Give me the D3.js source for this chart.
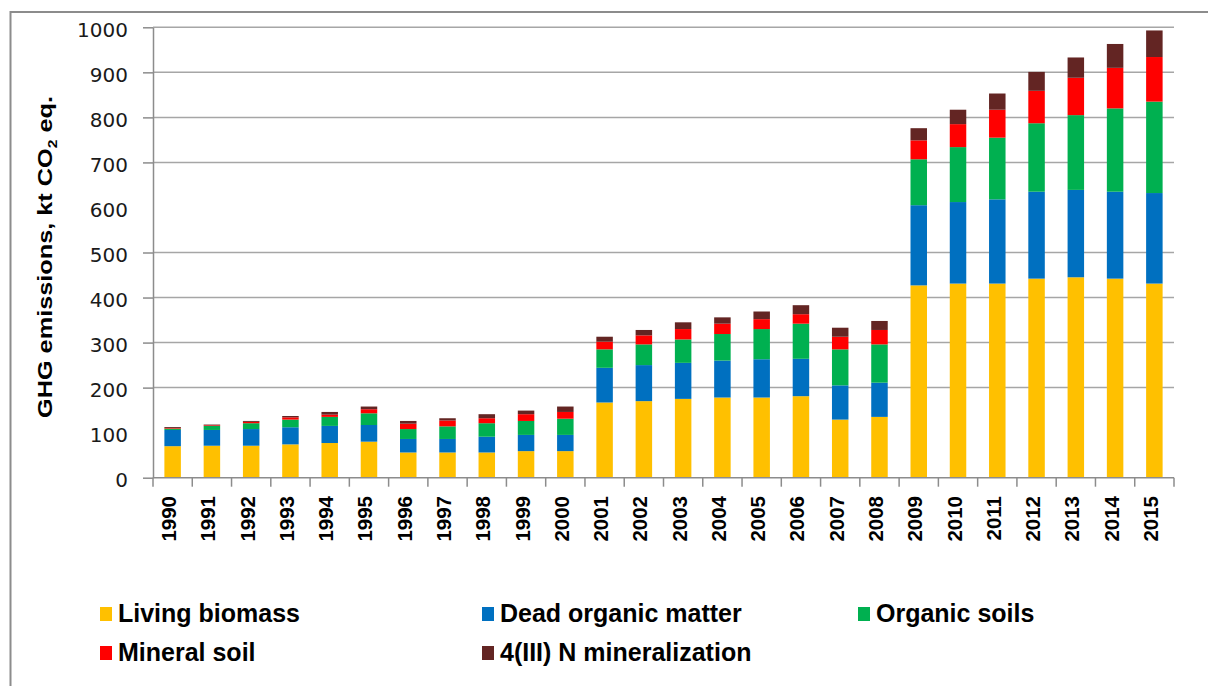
<!DOCTYPE html>
<html>
<head>
<meta charset="utf-8">
<script src="https://cdn.jsdelivr.net/npm/d3@7"></script>
<style>
  html, body { margin: 0; padding: 0; background: #fff; }
  svg { display: block; }
</style>
</head>
<body>
<svg id="chart" width="1208" height="686"></svg>
<script>
// GHG emissions by source category, kt CO2 eq.
const years = ["1990","1991","1992","1993","1994","1995","1996","1997","1998","1999","2000",
  "2001","2002","2003","2004","2005","2006","2007","2008","2009","2010","2011","2012","2013","2014","2015"];
const livingBiomass = [70,71,71,74,77,80,56,56,56,59,59,167,170,175,178,178,181,129,135,427,431,431,442,445,442,431];
const deadOrganicMatter = [36,35,37,38,38,37,30,30,35,36,36,77,80,80,82,85,83,76,76,178,181,187,193,194,193,201];
const organicSoils = [3,9,13,17,20,26,22,28,30,31,36,41,46,52,59,67,78,80,85,102,122,137,152,166,185,203];
const mineralSoil = [1.5,1.5,3,5,5,9,12,13,11,15,15,17,20,23,23,22,21,28,32,42,51,62,72,83,90,99];
const nMineralization = [2,1.5,2,3,6,6,6,5,9,8,12,11,12,15,14,17,20,20,20,27,32,36,42,45,53,59];

const seriesNames = ["Living biomass","Dead organic matter","Organic soils","Mineral soil","4(III) N mineralization"];
const seriesColors = ["#FFC000","#0070C0","#00B050","#FF0000","#632523"];
const yTickValues = [0,100,200,300,400,500,600,700,800,900,1000];
const gridValues = [200,300,400,500,700,800,900,1000];

const svg = d3.select("#chart");
const plot = { left: 153, right: 1174, top: 27.3, bottom: 477.7 };

// outer frame
svg.append("rect").attr("x", 10.5).attr("y", 12).attr("width", 1230).attr("height", 700)
  .attr("fill", "#fff").attr("stroke", "#8c8c8c").attr("stroke-width", 2);

const table = years.map((yr, i) => ({
  year: yr,
  "Living biomass": livingBiomass[i],
  "Dead organic matter": deadOrganicMatter[i],
  "Organic soils": organicSoils[i],
  "Mineral soil": mineralSoil[i],
  "4(III) N mineralization": nMineralization[i]
}));
const stacked = d3.stack().keys(seriesNames)(table);

const x = d3.scaleBand().domain(years).range([plot.left, plot.right]).padding(0);
const y = d3.scaleLinear().domain([0, 1000]).range([plot.bottom, plot.top]);
const color = d3.scaleOrdinal().domain(seriesNames).range(seriesColors);

// gridlines
svg.append("g").selectAll("line").data(gridValues).join("line")
  .attr("x1", plot.left).attr("x2", plot.right)
  .attr("y1", d => y(d)).attr("y2", d => y(d))
  .attr("stroke", "#a6a6a6").attr("stroke-width", 1.5);

// bars
const barW = x.bandwidth() * 0.42;
svg.append("g").selectAll("g").data(stacked).join("g")
  .attr("fill", d => color(d.key))
  .selectAll("rect").data(d => d).join("rect")
  .attr("x", d => x(d.data.year) + (x.bandwidth() - barW) / 2)
  .attr("width", barW)
  .attr("y", d => y(d[1]))
  .attr("height", d => y(d[0]) - y(d[1]));

// y axis
const yAxis = d3.axisLeft(y).tickValues(yTickValues).tickFormat(d3.format("d"))
  .tickSize(0).tickPadding(25);
const gy = svg.append("g").attr("transform", `translate(${plot.left},0)`).call(yAxis);
gy.select(".domain").attr("stroke", "#8c8c8c").attr("stroke-width", 1.5);
gy.selectAll("text").attr("font-family", "DejaVu Sans").attr("font-size", 20)
  .attr("fill", "#1a1a1a").attr("dy", "0.45em");
gy.selectAll(".tick").filter(d => gridValues.includes(d) || d === 0).append("line")
  .attr("x1", -10).attr("x2", 0).attr("stroke", "#8c8c8c").attr("stroke-width", 1.5);

// x axis
const gx = svg.append("g").attr("transform", `translate(0,${plot.bottom})`);
gx.append("line").attr("x1", plot.left).attr("x2", plot.right)
  .attr("stroke", "#8c8c8c").attr("stroke-width", 1.5);
const boundaries = years.map(yr => x(yr)).concat([plot.right]);
gx.selectAll("line.tk").data(boundaries).join("line").attr("class", "tk")
  .attr("x1", d => d).attr("x2", d => d).attr("y1", 0).attr("y2", 9)
  .attr("stroke", "#8c8c8c").attr("stroke-width", 1.5);
gx.selectAll("text").data(years).join("text")
  .attr("transform", d => `translate(${x(d) + x.bandwidth() / 2 + 3.5},${496 - plot.bottom}) rotate(-90)`)
  .attr("text-anchor", "end")
  .attr("font-family", "Liberation Sans, Arial, sans-serif").attr("font-weight", "bold")
  .attr("font-size", 20.5).attr("fill", "#000")
  .text(d => d);

// y axis title
const title = svg.append("text")
  .attr("transform", "translate(52,257) rotate(-90)")
  .attr("text-anchor", "middle")
  .attr("font-family", "Liberation Sans, Arial, sans-serif").attr("font-weight", "bold")
  .attr("font-size", 21).attr("fill", "#000")
  .attr("textLength", 322).attr("lengthAdjust", "spacingAndGlyphs");
title.append("tspan").text("GHG emissions, kt CO");
title.append("tspan").attr("font-size", 13).attr("dy", 5).text("2");
title.append("tspan").attr("dy", -5).text(" eq.");

// legend
const legendPos = [[100, 622], [482, 622], [858, 622], [100, 661], [482, 661]];
const legend = svg.append("g").selectAll("g").data(seriesNames).join("g")
  .attr("transform", (d, i) => `translate(${legendPos[i][0]},${legendPos[i][1]})`);
legend.append("rect").attr("x", 0).attr("y", -15).attr("width", 12).attr("height", 14)
  .attr("fill", d => color(d));
legend.append("text").attr("x", 18).attr("y", 0)
  .attr("font-family", "Liberation Sans, Arial, sans-serif").attr("font-weight", "bold")
  .attr("font-size", 25).attr("fill", "#000")
  .text(d => d);
</script>
</body>
</html>
